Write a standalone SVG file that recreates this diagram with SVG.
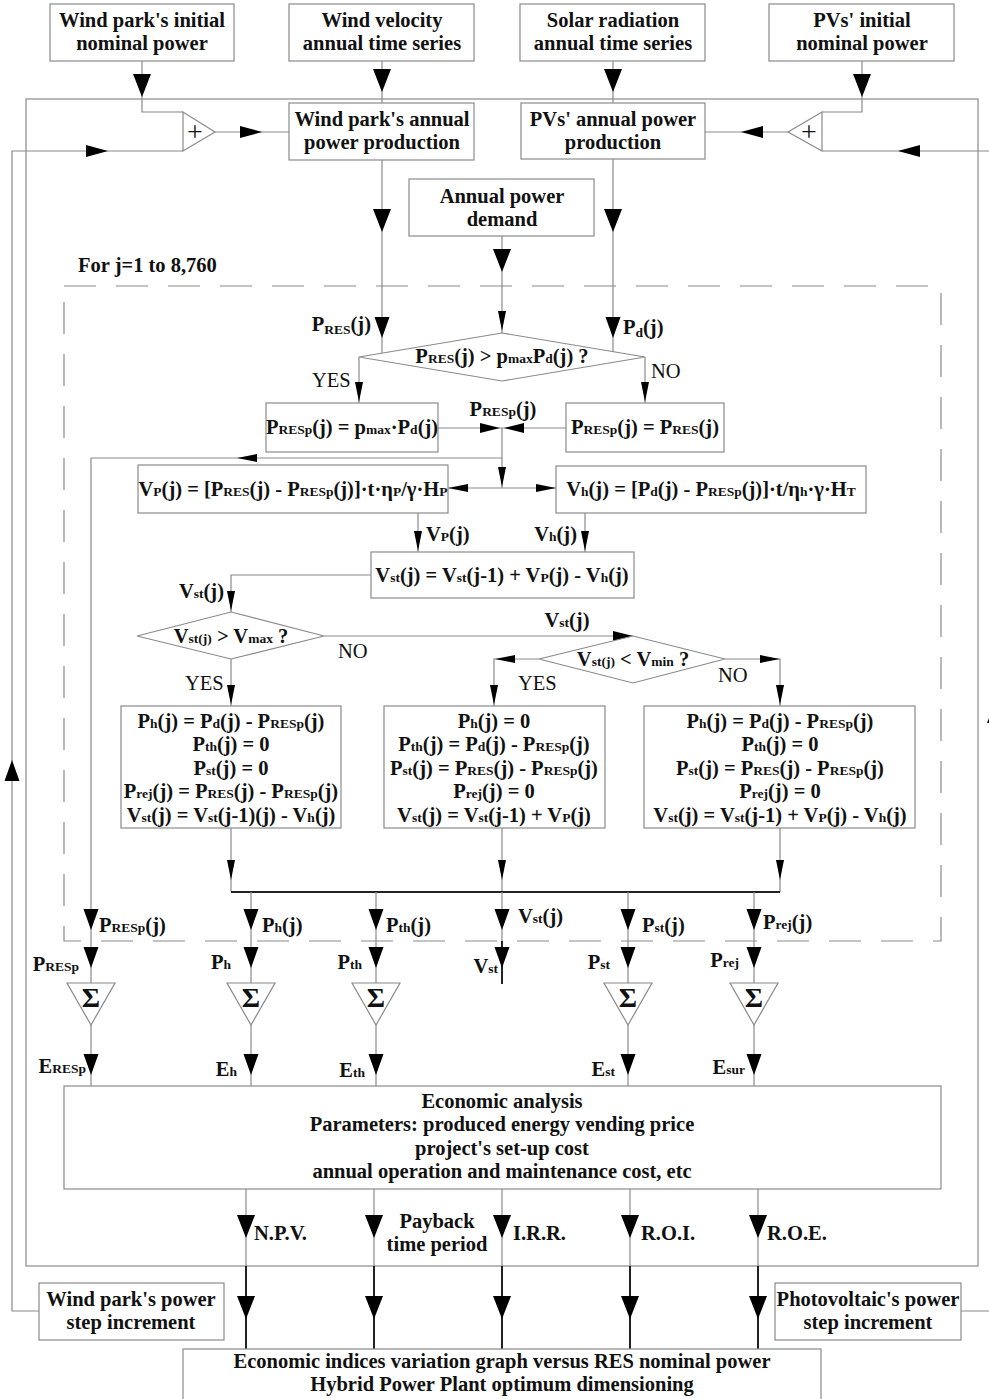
<svg xmlns="http://www.w3.org/2000/svg" xmlns:xlink="http://www.w3.org/1999/xlink" width="989" height="1399" viewBox="0 0 989 1399">
<style>
.bx{fill:#fff;stroke:#8a8a8a;stroke-width:1.2}
.ln{fill:none;stroke:#8a8a8a;stroke-width:1.2}
.dk{fill:none;stroke:#222;stroke-width:2}
.dash{fill:none;stroke:#8a8a8a;stroke-width:1.2;stroke-dasharray:32 20}
.ah{fill:#000}
text{font-family:"Liberation Serif","Times New Roman",serif;font-weight:bold;font-size:20.5px;fill:#111}
.c{text-anchor:middle}
.e{text-anchor:end}
.r{font-weight:normal}
.s{font-size:13.5px}
.d{font-size:13.5px;baseline-shift:-3px}
.sg{font-size:28px}
.pl{font-size:28px;font-weight:normal}
</style>
<defs>
<path id="aL" class="ah" d="M-9,-23H9L0,0Z"/>
<path id="aM" class="ah" d="M-7.5,-21H7.5L0,0Z"/>
<path id="aS" class="ah" d="M-4,-20H4L0,0Z"/>
<path id="hL" class="ah" d="M-22,-6V6L0,0Z"/>
<path id="hM" class="ah" d="M-20,-5V5L0,0Z"/>
<path id="hS" class="ah" d="M-20,-4V4L0,0Z"/>
</defs>

<g id="connectors">
<rect class="ln" x="26" y="99" width="952" height="1167"/>
<rect class="dash" x="64" y="286" width="877" height="655"/>
<polyline class="ln" points="142,61 142,112 183,112"/>
<use href="#aL" x="142" y="97"/>
<line class="ln" x1="382" y1="61" x2="382" y2="103"/>
<use href="#aL" x="382" y="92"/>
<line class="ln" x1="613" y1="61" x2="613" y2="103"/>
<use href="#aL" x="613" y="92"/>
<polyline class="ln" points="862,61 862,112 822,112"/>
<use href="#aL" x="862" y="97"/>
<line class="ln" x1="215" y1="132" x2="289" y2="132"/>
<use href="#hL" x="262" y="132"/>
<line class="ln" x1="788" y1="132" x2="705" y2="132"/>
<use href="#hL" transform="translate(741,132) rotate(180)"/>
<polyline class="ln" points="39,1311 12,1311 12,151 183,151"/>
<use href="#hL" x="108" y="151"/>
<use href="#aM" transform="translate(12,760) rotate(180)"/>
<polyline class="ln" points="961,1311 996,1311 996,151 822,151"/>
<use href="#hL" transform="translate(898,151) rotate(180)"/>
<use href="#aL" transform="translate(996,700) rotate(180)"/>
<line class="ln" x1="382" y1="160" x2="382" y2="353"/>
<use href="#aL" x="382" y="232"/>
<use href="#aM" x="382" y="338"/>
<line class="ln" x1="613" y1="159" x2="613" y2="352"/>
<use href="#aL" x="613" y="232"/>
<use href="#aM" x="613" y="338"/>
<line class="ln" x1="502" y1="236" x2="502" y2="333"/>
<use href="#aL" x="502" y="272"/>
<use href="#aS" x="502" y="331"/>
<line class="ln" x1="359" y1="357" x2="359" y2="403"/>
<use href="#aS" x="359" y="402"/>
<line class="ln" x1="645" y1="357" x2="645" y2="403"/>
<use href="#aS" x="645" y="402"/>
<line class="ln" x1="438" y1="428" x2="566" y2="428"/>
<use href="#hM" x="500" y="428"/>
<use href="#hM" transform="translate(504,428) rotate(180)"/>
<line class="ln" x1="502" y1="428" x2="502" y2="488"/>
<use href="#aS" x="502" y="487"/>
<polyline class="ln" points="502,458 91,458 91,983"/>
<use href="#hS" transform="translate(237,458) rotate(180)"/>
<line class="ln" x1="448" y1="488" x2="556" y2="488"/>
<use href="#hS" transform="translate(448,488) rotate(180)"/>
<use href="#hS" x="556" y="488"/>
<line class="ln" x1="418" y1="513" x2="418" y2="552"/>
<use href="#aS" x="418" y="551"/>
<line class="ln" x1="585" y1="513" x2="585" y2="552"/>
<use href="#aS" x="585" y="551"/>
<polyline class="ln" points="371,575 231,575 231,612"/>
<use href="#aS" x="231" y="611"/>
<line class="ln" x1="231" y1="659" x2="231" y2="706"/>
<use href="#aS" x="231" y="705"/>
<line class="ln" x1="324" y1="636" x2="633" y2="636"/>
<use href="#hM" x="633" y="636"/>
<polyline class="ln" points="539,659 494,659 494,706"/>
<use href="#hS" transform="translate(495,659) rotate(180)"/>
<use href="#aS" x="494" y="705"/>
<polyline class="ln" points="725,659 780,659 780,706"/>
<use href="#hS" x="780" y="659"/>
<use href="#aS" x="780" y="705"/>
<line class="ln" x1="231" y1="828" x2="231" y2="892"/>
<use href="#aS" x="231" y="880"/>
<line class="ln" x1="502" y1="828" x2="502" y2="892"/>
<use href="#aS" x="502" y="880"/>
<line class="ln" x1="780" y1="828" x2="780" y2="892"/>
<use href="#aS" x="780" y="880"/>
<line class="dk" x1="231" y1="892" x2="780" y2="892"/>
<line class="ln" x1="251" y1="892" x2="251" y2="983"/>
<line class="ln" x1="376" y1="892" x2="376" y2="983"/>
<line class="ln" x1="502" y1="892" x2="502" y2="941"/>
<line class="dk" x1="502" y1="941" x2="502" y2="984"/>
<line class="ln" x1="628" y1="892" x2="628" y2="983"/>
<line class="ln" x1="754" y1="892" x2="754" y2="983"/>
<use href="#aM" x="91" y="930"/><use href="#aM" x="91" y="968"/>
<use href="#aM" x="251" y="930"/><use href="#aM" x="251" y="968"/>
<use href="#aM" x="376" y="930"/><use href="#aM" x="376" y="968"/>
<use href="#aM" x="502" y="930"/><use href="#aM" x="502" y="968"/>
<use href="#aM" x="628" y="930"/><use href="#aM" x="628" y="968"/>
<use href="#aM" x="754" y="930"/><use href="#aM" x="754" y="968"/>
<line class="ln" x1="91" y1="1025" x2="91" y2="1086"/>
<line class="ln" x1="251" y1="1025" x2="251" y2="1086"/>
<line class="ln" x1="376" y1="1025" x2="376" y2="1086"/>
<line class="ln" x1="628" y1="1025" x2="628" y2="1086"/>
<line class="ln" x1="754" y1="1025" x2="754" y2="1086"/>
<use href="#aM" x="91" y="1075"/>
<use href="#aM" x="251" y="1075"/>
<use href="#aM" x="376" y="1075"/>
<use href="#aM" x="628" y="1075"/>
<use href="#aM" x="754" y="1075"/>
<line class="ln" x1="246" y1="1189" x2="246" y2="1266"/>
<line class="ln" x1="374" y1="1189" x2="374" y2="1266"/>
<line class="ln" x1="502" y1="1189" x2="502" y2="1266"/>
<line class="ln" x1="630" y1="1189" x2="630" y2="1266"/>
<line class="ln" x1="758" y1="1189" x2="758" y2="1266"/>
<line class="dk" x1="246" y1="1266" x2="246" y2="1349"/>
<line class="dk" x1="374" y1="1266" x2="374" y2="1349"/>
<line class="dk" x1="502" y1="1266" x2="502" y2="1349"/>
<line class="dk" x1="630" y1="1266" x2="630" y2="1349"/>
<line class="dk" x1="758" y1="1266" x2="758" y2="1349"/>
<use href="#aL" x="246" y="1238"/><use href="#aL" x="246" y="1319"/>
<use href="#aL" x="374" y="1238"/><use href="#aL" x="374" y="1319"/>
<use href="#aL" x="502" y="1238"/><use href="#aL" x="502" y="1319"/>
<use href="#aL" x="630" y="1238"/><use href="#aL" x="630" y="1319"/>
<use href="#aL" x="758" y="1238"/><use href="#aL" x="758" y="1319"/>
</g>

<g id="labels">
<text x="78" y="272">For j=1 to 8,760</text>
<text class="e" x="371" y="331">P<tspan class="d">RES</tspan>(j)</text>
<text x="623" y="334">P<tspan class="d">d</tspan>(j)</text>
<text class="r" x="312" y="387">YES</text>
<text class="r" x="651" y="378">NO</text>
<text class="c" x="503" y="416">P<tspan class="s">RESp</tspan>(j)</text>
<text x="426" y="541">V<tspan class="s">P</tspan>(j)</text>
<text class="e" x="577" y="541">V<tspan class="s">h</tspan>(j)</text>
<text class="e" x="224" y="598">V<tspan class="s">st</tspan>(j)</text>
<text class="c" x="567" y="627">V<tspan class="s">st</tspan>(j)</text>
<text class="r" x="338" y="658">NO</text>
<text class="r" x="185" y="690">YES</text>
<text class="r" x="518" y="690">YES</text>
<text class="r" x="718" y="682">NO</text>
<text x="99" y="932">P<tspan class="s">RESp</tspan>(j)</text>
<text x="262" y="932">P<tspan class="s">h</tspan>(j)</text>
<text x="386" y="932">P<tspan class="s">th</tspan>(j)</text>
<text x="518" y="923">V<tspan class="s">st</tspan>(j)</text>
<text x="642" y="932">P<tspan class="s">st</tspan>(j)</text>
<text x="763" y="929">P<tspan class="s">rej</tspan>(j)</text>
<text class="e" x="79" y="971">P<tspan class="s">RESp</tspan></text>
<text class="e" x="231" y="969">P<tspan class="s">h</tspan></text>
<text class="e" x="362" y="969">P<tspan class="s">th</tspan></text>
<text class="e" x="498" y="973">V<tspan class="s">st</tspan></text>
<text class="e" x="610" y="969">P<tspan class="s">st</tspan></text>
<text class="e" x="739" y="967">P<tspan class="s">rej</tspan></text>
<text class="e" x="86" y="1073">E<tspan class="s">RESp</tspan></text>
<text class="e" x="237" y="1076">E<tspan class="s">h</tspan></text>
<text class="e" x="365" y="1077">E<tspan class="s">th</tspan></text>
<text class="e" x="615" y="1076">E<tspan class="s">st</tspan></text>
<text class="e" x="745" y="1074">E<tspan class="s">sur</tspan></text>
<text x="254" y="1240">N.P.V.</text>
<text class="c" x="437" y="1228">Payback</text>
<text class="c" x="437" y="1251">time period</text>
<text x="513" y="1240">I.R.R.</text>
<text x="641" y="1240">R.O.I.</text>
<text x="767" y="1240">R.O.E.</text>
</g>

<g id="n-wind-init"><rect class="bx" x="50" y="4" width="184" height="57"/><text class="c" x="142" y="27">Wind park's initial</text><text class="c" x="142" y="50">nominal power</text></g>
<g id="n-wind-vel"><rect class="bx" x="289" y="4" width="185" height="57"/><text class="c" x="382" y="27">Wind velocity</text><text class="c" x="382" y="50">annual time series</text></g>
<g id="n-solar"><rect class="bx" x="520" y="4" width="185" height="57"/><text class="c" x="613" y="27">Solar radiation</text><text class="c" x="613" y="50">annual time series</text></g>
<g id="n-pv-init"><rect class="bx" x="769" y="4" width="185" height="57"/><text class="c" x="862" y="27">PVs' initial</text><text class="c" x="862" y="50">nominal power</text></g>
<g id="n-add-wind"><polygon class="bx" points="183,112 183,151 215,132"/><text class="c pl" x="195" y="141">+</text></g>
<g id="n-add-pv"><polygon class="bx" points="822,112 822,151 788,132"/><text class="c pl" x="809" y="141">+</text></g>
<g id="n-wind-prod"><rect class="bx" x="289" y="103" width="185" height="57"/><text class="c" x="382" y="126">Wind park's annual</text><text class="c" x="382" y="149">power production</text></g>
<g id="n-pv-prod"><rect class="bx" x="521" y="103" width="184" height="56"/><text class="c" x="613" y="126">PVs' annual power</text><text class="c" x="613" y="149">production</text></g>
<g id="n-demand"><rect class="bx" x="409" y="179" width="185" height="57"/><text class="c" x="502" y="203">Annual power</text><text class="c" x="502" y="226">demand</text></g>
<g id="n-dec1"><polygon class="bx" points="359,357 502,333 645,357 502,381"/><text class="c" x="502" y="363">P<tspan class="s">RES</tspan>(j) &gt; p<tspan class="s">max</tspan>P<tspan class="s">d</tspan>(j) ?</text></g>
<g id="n-presp1"><rect class="bx" x="266" y="403" width="172" height="49"/><text class="c" x="352" y="434">P<tspan class="s">RESp</tspan>(j) = p<tspan class="s">max</tspan>·P<tspan class="s">d</tspan>(j)</text></g>
<g id="n-presp2"><rect class="bx" x="566" y="403" width="158" height="49"/><text class="c" x="645" y="434">P<tspan class="s">RESp</tspan>(j) = P<tspan class="s">RES</tspan>(j)</text></g>
<g id="n-vp"><rect class="bx" x="138" y="465" width="310" height="48"/><text class="c" x="293" y="496">V<tspan class="s">P</tspan>(j) = [P<tspan class="s">RES</tspan>(j) - P<tspan class="s">RESp</tspan>(j)]·t·η<tspan class="s">P</tspan>/γ·H<tspan class="s">P</tspan></text></g>
<g id="n-vh"><rect class="bx" x="556" y="466" width="310" height="47"/><text class="c" x="711" y="496">V<tspan class="s">h</tspan>(j) = [P<tspan class="s">d</tspan>(j) - P<tspan class="s">RESp</tspan>(j)]·t/η<tspan class="s">h</tspan>·γ·H<tspan class="s">T</tspan></text></g>
<g id="n-vst"><rect class="bx" x="371" y="552" width="263" height="46"/><text class="c" x="502" y="582">V<tspan class="s">st</tspan>(j) = V<tspan class="s">st</tspan>(j-1) + V<tspan class="s">P</tspan>(j) - V<tspan class="s">h</tspan>(j)</text></g>
<g id="n-dec2"><polygon class="bx" points="137,636 231,612 324,636 231,659"/><text class="c" x="231" y="643">V<tspan class="s">st(j)</tspan> &gt; V<tspan class="s">max</tspan> ?</text></g>
<g id="n-dec3"><polygon class="bx" points="539,659 633,636 725,659 633,683"/><text class="c" x="633" y="666">V<tspan class="s">st(j)</tspan> &lt; V<tspan class="s">min</tspan> ?</text></g>
<g id="n-caseA"><rect class="bx" x="121" y="706" width="220" height="122"/>
<text class="c" x="231" y="728">P<tspan class="s">h</tspan>(j) = P<tspan class="s">d</tspan>(j) - P<tspan class="s">RESp</tspan>(j)</text>
<text class="c" x="231" y="751">P<tspan class="s">th</tspan>(j) = 0</text>
<text class="c" x="231" y="775">P<tspan class="s">st</tspan>(j) = 0</text>
<text class="c" x="231" y="798">P<tspan class="s">rej</tspan>(j) = P<tspan class="s">RES</tspan>(j) - P<tspan class="s">RESp</tspan>(j)</text>
<text class="c" x="231" y="822">V<tspan class="s">st</tspan>(j) = V<tspan class="s">st</tspan>(j-1)(j) - V<tspan class="s">h</tspan>(j)</text></g>
<g id="n-caseB"><rect class="bx" x="384" y="706" width="221" height="122"/>
<text class="c" x="494" y="728">P<tspan class="s">h</tspan>(j) = 0</text>
<text class="c" x="494" y="751">P<tspan class="s">th</tspan>(j) = P<tspan class="s">d</tspan>(j) - P<tspan class="s">RESp</tspan>(j)</text>
<text class="c" x="494" y="775">P<tspan class="s">st</tspan>(j) = P<tspan class="s">RES</tspan>(j) - P<tspan class="s">RESp</tspan>(j)</text>
<text class="c" x="494" y="798">P<tspan class="s">rej</tspan>(j) = 0</text>
<text class="c" x="494" y="822">V<tspan class="s">st</tspan>(j) = V<tspan class="s">st</tspan>(j-1) + V<tspan class="s">P</tspan>(j)</text></g>
<g id="n-caseC"><rect class="bx" x="644" y="706" width="271" height="122"/>
<text class="c" x="780" y="728">P<tspan class="s">h</tspan>(j) = P<tspan class="s">d</tspan>(j) - P<tspan class="s">RESp</tspan>(j)</text>
<text class="c" x="780" y="751">P<tspan class="s">th</tspan>(j) = 0</text>
<text class="c" x="780" y="775">P<tspan class="s">st</tspan>(j) = P<tspan class="s">RES</tspan>(j) - P<tspan class="s">RESp</tspan>(j)</text>
<text class="c" x="780" y="798">P<tspan class="s">rej</tspan>(j) = 0</text>
<text class="c" x="780" y="822">V<tspan class="s">st</tspan>(j) = V<tspan class="s">st</tspan>(j-1) + V<tspan class="s">P</tspan>(j) - V<tspan class="s">h</tspan>(j)</text></g>
<g id="n-sum1"><polygon class="bx" points="67,983 115,983 91,1025"/><text class="c sg" x="91" y="1007">Σ</text></g>
<g id="n-sum2"><polygon class="bx" points="227,983 275,983 251,1025"/><text class="c sg" x="251" y="1007">Σ</text></g>
<g id="n-sum3"><polygon class="bx" points="352,983 400,983 376,1025"/><text class="c sg" x="376" y="1007">Σ</text></g>
<g id="n-sum4"><polygon class="bx" points="604,983 652,983 628,1025"/><text class="c sg" x="628" y="1007">Σ</text></g>
<g id="n-sum5"><polygon class="bx" points="730,983 778,983 754,1025"/><text class="c sg" x="754" y="1007">Σ</text></g>
<g id="n-econ"><rect class="bx" x="64" y="1086" width="877" height="103"/>
<text class="c" x="502" y="1108">Economic analysis</text>
<text class="c" x="502" y="1131">Parameters: produced energy vending price</text>
<text class="c" x="502" y="1155">project's set-up cost</text>
<text class="c" x="502" y="1178">annual operation and maintenance cost, etc</text></g>
<g id="n-wind-step"><rect class="bx" x="39" y="1283" width="185" height="57"/><text class="c" x="131" y="1306">Wind park's power</text><text class="c" x="131" y="1329">step increment</text></g>
<g id="n-pv-step"><rect class="bx" x="775" y="1283" width="186" height="57"/><text class="c" x="868" y="1306">Photovoltaic's power</text><text class="c" x="868" y="1329">step increment</text></g>
<g id="n-result"><rect class="bx" x="183" y="1349" width="638" height="70"/>
<text class="c" x="502" y="1368">Economic indices variation graph versus RES nominal power</text>
<text class="c" x="502" y="1391">Hybrid Power Plant optimum dimensioning</text></g>
</svg>
